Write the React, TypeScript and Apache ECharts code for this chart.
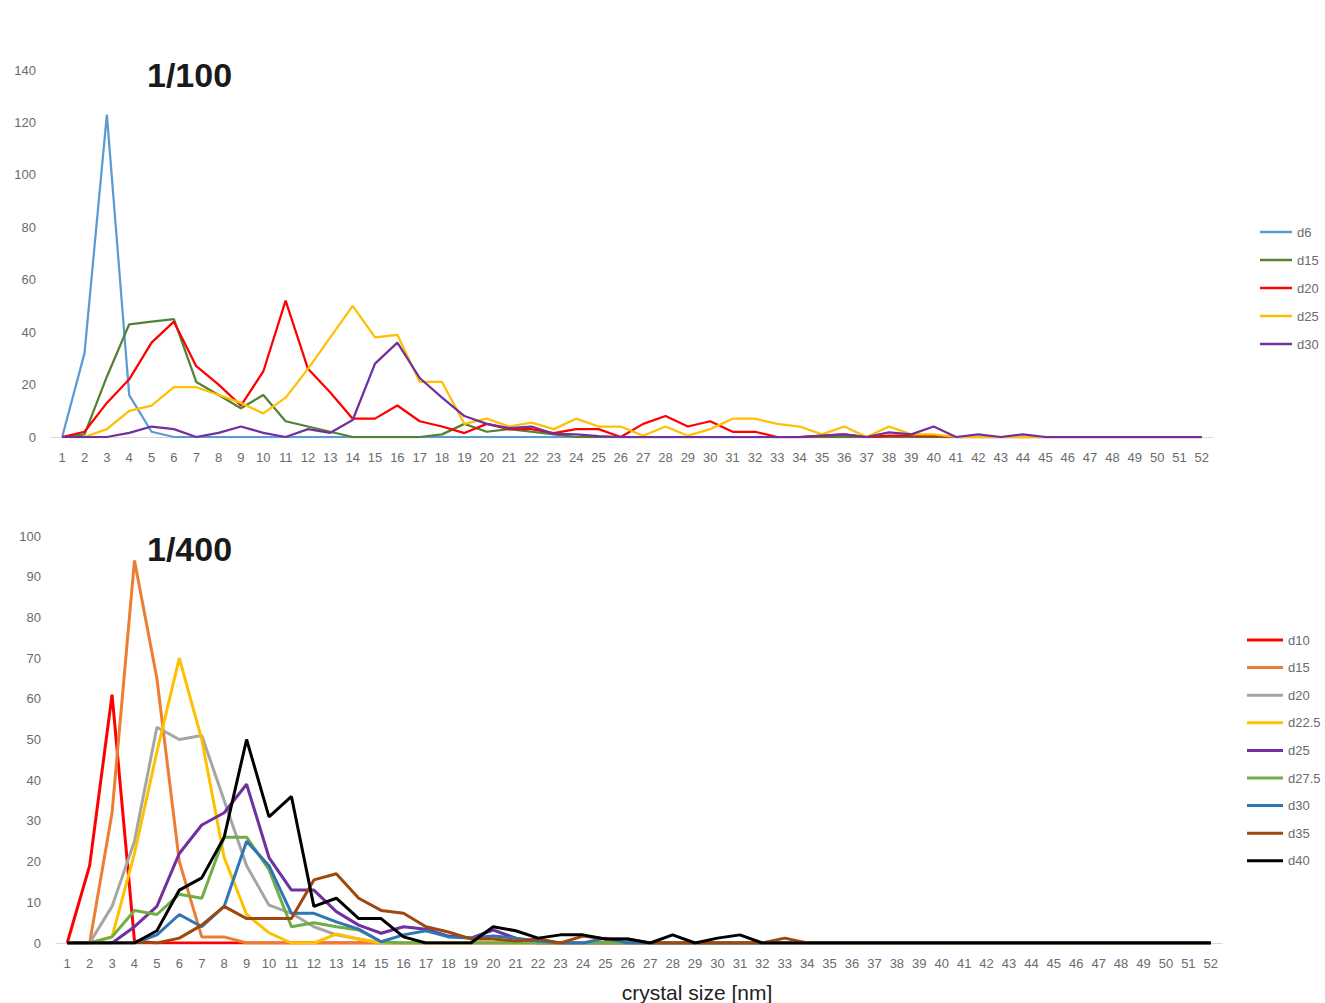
import React, { useEffect, useRef } from "react";
import * as echarts from "echarts";

const categories = [
  "1","2","3","4","5","6","7","8","9","10","11","12","13","14","15","16","17","18","19","20",
  "21","22","23","24","25","26","27","28","29","30","31","32","33","34","35","36","37","38","39","40",
  "41","42","43","44","45","46","47","48","49","50","51","52",
];

// Top chart (1/100)
const topD6 = [0,32,123,16,2,0,0,0,0,0, 0,0,0,0,0,0,0,0,0,0, 0,0,0,0,0,0,0,0,0,0, 0,0,0,0,0,0,0,0,0,0, 0,0,0,0,0,0,0,0,0,0, 0,0];
const topD15 = [0,1,23,43,44,45,21,16,11,16, 6,4,2,0,0,0,0,1,5,2, 3,2,1,0,0,0,0,0,0,0, 0,0,0,0,0,0,0,0,0,0, 0,0,0,0,0,0,0,0,0,0, 0,0];
const topD20 = [0,2,13,22,36,44,27,20,12,25, 52,26,17,7,7,12,6,4,1.5,5, 3,3,1.5,3,3,0,5,8,4,6, 2,2,0,0,0.5,1,0,0.5,0.5,0.5, 0,0,0,0,0,0,0,0,0,0, 0,0];
const topD25 = [0,0,3,10,12,19,19,16,13,9, 15,26,38,50,38,39,21,21,5,7, 4,5.5,3,7,4,4,0.5,4,0.5,3, 7,7,5,4,1,4,0,4,1,1, 0,0,0,0,0,0,0,0,0,0, 0,0];
const topD30 = [0,0,0,1.6,4,3,0,1.6,4,1.6, 0,3,1.6,6.5,28,36,22.5,15,8,5, 3.4,4,1.2,1,0.3,0,0,0,0,0, 0,0,0,0,0.5,1,0,1.8,1,4, 0,1,0,1,0,0,0,0,0,0, 0,0];

// Bottom chart (1/400)
const botD10 = [0,19,61,0.5,0,0,0,0,0,0, 0,0,0,0,0,0,0,0,0,0, 0,0,0,0,0,0,0,0,0,0, 0,0,0,0,0,0,0,0,0,0, 0,0,0,0,0,0,0,0,0,0, 0,0];
const botD15 = [0,0,32,94,65,20,1.5,1.5,0,0, 0,0,0,0,0,0,0,0,0,0, 0,0,0,0,0,0,0,0,0,0, 0,0,0,0,0,0,0,0,0,0, 0,0,0,0,0,0,0,0,0,0, 0,0];
const botD20 = [0,0,9,25,53,50,51,35,19,9.3, 7.3,4,2,1,0,0,0,0,0,0, 0,0,0,0,0,0,0,0,0,0, 0,0,0,0,0,0,0,0,0,0, 0,0,0,0,0,0,0,0,0,0, 0,0];
const botD225 = [0,0,1.5,22,47,70,50,21,7,2.5, 0,0,2.2,1,0,0,0,0,0,0, 0,0,0,0,0,0,0,0,0,0, 0,0,0,0,0,0,0,0,0,0, 0,0,0,0,0,0,0,0,0,0, 0,0];
const botD25 = [0,0,0,4,9,22,29,32,39,21, 13,13,7.7,4.4,2.4,4,3.4,1.7,1.2,3.2, 1.2,0,0,0,0,0,0,0,0,0, 0,0,0,0,0,0,0,0,0,0, 0,0,0,0,0,0,0,0,0,0, 0,0];
const botD275 = [0,0,1.5,8,7,12,11,26,26,18, 4,5,4,3.2,0.3,0,0,0,0,0, 0,0,0,0,0,0,0,0,0,0, 0,0,0,0,0,0,0,0,0,0, 0,0,0,0,0,0,0,0,0,0, 0,0];
const botD30 = [0,0,0,0,2,7,4,9,25,19, 7.3,7.3,5.2,3.4,0.3,2,3,1.5,1.2,1.7, 1.2,0.5,0,0,1.2,0,0,0,0,0, 0,0,0,0,0,0,0,0,0,0, 0,0,0,0,0,0,0,0,0,0, 0,0];
const botD35 = [0,0,0,0,0,1.2,4.4,9,6,6, 6,15.5,17,11,8,7.3,4,2.7,1,1, 0.5,1,0,1.7,1,1,0,0,0,0, 0,0,1.2,0,0,0,0,0,0,0, 0,0,0,0,0,0,0,0,0,0, 0,0];
const botD40 = [0,0,0,0,3,13,16,26,50,31, 36,9,11,6,6,1.5,0,0,0,4, 3,1.2,2,2,1,1,0,2,0,1.2, 2,0,0,0,0,0,0,0,0,0, 0,0,0,0,0,0,0,0,0,0, 0,0];

const topSeries = [
  { name: "d6", data: topD6, color: "#5B9BD5" },
  { name: "d15", data: topD15, color: "#548235" },
  { name: "d20", data: topD20, color: "#FF0000" },
  { name: "d25", data: topD25, color: "#FFC000" },
  { name: "d30", data: topD30, color: "#7030A0" },
];

const bottomSeries = [
  { name: "d10", data: botD10, color: "#FF0000" },
  { name: "d15", data: botD15, color: "#ED7D31" },
  { name: "d20", data: botD20, color: "#A5A5A5" },
  { name: "d22.5", data: botD225, color: "#FFC000" },
  { name: "d25", data: botD25, color: "#7030A0" },
  { name: "d27.5", data: botD275, color: "#70AD47" },
  { name: "d30", data: botD30, color: "#2E75B6" },
  { name: "d35", data: botD35, color: "#9E480E" },
  { name: "d40", data: botD40, color: "#000000" },
];

const FONT = "'Liberation Sans', Arial, sans-serif";

export default function App() {
  const ref = useRef<HTMLDivElement>(null);
  useEffect(() => {
    if (!ref.current) return;
    const chart = echarts.init(ref.current, undefined, { renderer: "svg" });

    const mkX = (gridIndex: number) => ({
      type: "category",
      gridIndex,
      data: categories,
      boundaryGap: true,
      axisLine: { show: true, lineStyle: { color: "#d9d9d9", width: 1 } },
      axisTick: { show: false },
      axisLabel: { interval: 0, color: "#6b6b6b", fontSize: 13, fontFamily: FONT, margin: 14 },
      splitLine: { show: false },
    });
    const mkY = (gridIndex: number, max: number, interval: number, margin: number) => ({
      type: "value",
      gridIndex,
      min: 0,
      max,
      interval,
      axisLine: { show: false },
      axisTick: { show: false },
      splitLine: { show: false },
      axisLabel: { color: "#6b6b6b", fontSize: 13, fontFamily: FONT, margin },
    });

    const series: any[] = [];
    topSeries.forEach((s) => {
      series.push({
        type: "line",
        name: s.name,
        xAxisIndex: 0,
        yAxisIndex: 0,
        data: s.data,
        symbol: "none",
        lineStyle: { color: s.color, width: 2.25 },
        itemStyle: { color: s.color },
      });
    });
    bottomSeries.forEach((s) => {
      series.push({
        type: "line",
        name: s.name + " ",
        xAxisIndex: 1,
        yAxisIndex: 1,
        data: s.data,
        symbol: "none",
        lineStyle: { color: s.color, width: 3 },
        itemStyle: { color: s.color },
      });
    });

    chart.setOption({
      animation: false,
      backgroundColor: "#ffffff",
      grid: [
        { left: 51, width: 1162, top: 70, height: 367 },
        { left: 56, width: 1166, top: 536, height: 407 },
      ],
      xAxis: [mkX(0), mkX(1)],
      yAxis: [mkY(0, 140, 20, 15), mkY(1, 100, 10, 15)],
      legend: [
        {
          orient: "vertical",
          left: 1255,
          top: 220,
          icon: "rect",
          itemWidth: 32,
          itemHeight: 2.5,
          itemGap: 14,
          data: topSeries.map((s) => s.name),
          textStyle: { color: "#6b6b6b", fontSize: 13, fontFamily: FONT, lineHeight: 14 },
        },
        {
          orient: "vertical",
          left: 1242,
          top: 628,
          icon: "rect",
          itemWidth: 36,
          itemHeight: 3,
          itemGap: 13.6,
          itemTextGap: 2,
          data: bottomSeries.map((s) => s.name + " "),
          formatter: (n: string) => n.trim(),
          textStyle: { color: "#6b6b6b", fontSize: 13, fontFamily: FONT, lineHeight: 14 },
        },
      ],
      graphic: [
        {
          type: "text",
          left: 147,
          top: 58,
          style: { text: "1/100", fontSize: 34, fontWeight: "bold", fill: "#1a1a1a", fontFamily: FONT },
        },
        {
          type: "text",
          left: 147,
          top: 532,
          style: { text: "1/400", fontSize: 34, fontWeight: "bold", fill: "#1a1a1a", fontFamily: FONT },
        },
        {
          type: "text",
          x: 697,
          y: 992,
          style: {
            text: "crystal size [nm]",
            fontSize: 21,
            fill: "#222222",
            fontFamily: FONT,
            align: "center",
            verticalAlign: "middle",
          },
        },
      ],
      series,
    });
    return () => chart.dispose();
  }, []);

  return (
    <div
      ref={ref}
      style={{ position: "fixed", left: 0, top: 0, width: 1325, height: 1003, background: "#fff" }}
    />
  );
}
